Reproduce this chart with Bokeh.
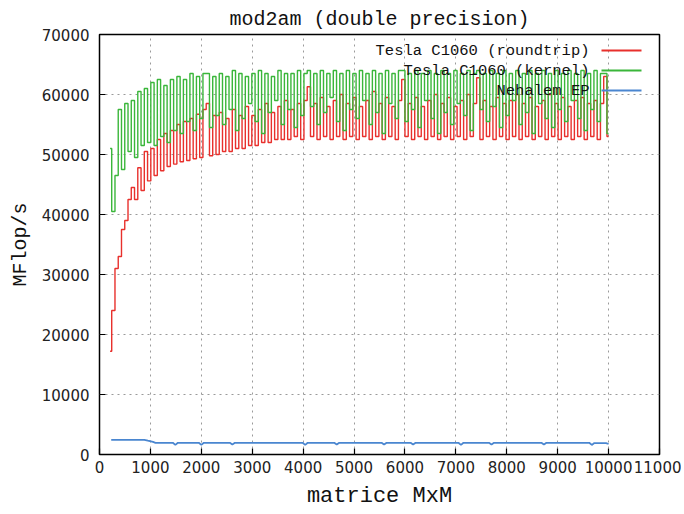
from bokeh.plotting import figure
from bokeh.models import Range1d, FixedTicker, Label, BoxAnnotation
from bokeh.embed import file_html
from bokeh.resources import INLINE

# ---------------- data ----------------
title_text = "mod2am (double precision)"
x_label = "matrice MxM"
y_label = "MFlop/s"
series_names = ["Tesla C1060 (roundtrip)", "Tesla C1060 (kernel)", "Nehalem EP"]
series_colors = ["#e8302c", "#3ab63a", "#4a86d0"]

x_ticks = [0, 1000, 2000, 3000, 4000, 5000, 6000, 7000, 8000, 9000, 10000, 11000]
y_ticks = [0, 10000, 20000, 30000, 40000, 50000, 60000, 70000]

# matrix sizes: sampled from 208 to 10000 every 64
x_start = 208
x_step = 64

roundtrip = [
    17200, 24000, 31000, 33000, 37500, 39000, 42500, 44500, 42500, 47800,
    44000, 50500, 45600, 51000, 46500, 52500, 47300, 53500, 48000, 54000,
    48400, 55000, 48800, 55500, 49000, 56000, 49300, 56700, 49500, 57500,
    58500, 49800, 56500, 50000, 57000, 50500, 56000, 50500, 57500, 51000,
    56500, 51000, 58000, 51500, 56500, 51500, 57500, 52000, 58500, 52000,
    57000, 52500, 58000, 52500, 59000, 52500, 57500, 53000, 58500, 52500,
    59000, 61300, 53000, 58500, 52500, 59500, 53000, 58000, 52500, 59000,
    53000, 60000, 52500, 58500, 53000, 59500, 52500, 58000, 53000, 59000,
    52500, 60500, 53000, 58500, 52500, 59500, 53000, 58000, 52500, 59000,
    62500, 53000, 58500, 52500, 59500, 53000, 58000, 52500, 59000, 53000,
    60000, 52500, 58500, 53000, 59500, 52500, 58000, 53000, 59000, 52500,
    60000, 53000, 58500, 62800, 52500, 59000, 53000, 58000, 52500, 59500,
    53000, 58500, 52500, 59000, 53000, 60000, 52500, 58500, 53000, 59500,
    52500, 58000, 53000, 59000, 52500, 60000, 53000, 58500, 52500, 59500,
    53000, 58000, 52500, 59000, 53000, 59500, 52500, 58500, 53000, 59000,
    52500, 58500, 63000, 53000,
]

kernel = [
    51000, 40500, 46500, 57500, 47500, 58500, 50500, 59000, 49500, 60500,
    51500, 61000, 52000, 62000, 51500, 62500, 53000, 61500, 52000, 62500,
    54000, 63000, 53500, 62500, 55500, 63500, 54000, 63000, 56000, 63500,
    63500, 54500, 63000, 56500, 63500, 55000, 63000, 57500, 64000, 54000,
    63500, 56000, 63000, 58500, 63500, 55500, 64000, 53500, 63500, 57000,
    63000, 59000, 64000, 55000, 63500, 57500, 63500, 54500, 64000, 56500,
    63500, 64000, 58000, 63500, 55000, 64000, 57000, 63500, 59500, 64000,
    55500, 63500, 54000, 64000, 57500, 63500, 56000, 64000, 59000, 63500,
    55000, 64000, 57000, 63500, 53500, 64000, 58500, 63500, 56000, 64000,
    64000, 55500, 63500, 57500, 64000, 54500, 63500, 59000, 64000, 56000,
    63500, 53500, 64000, 57000, 63500, 55000, 64000, 58500, 63500, 56500,
    64000, 54000, 63500, 64000, 57500, 63500, 55500, 64000, 58000, 63500,
    54500, 64000, 56500, 63500, 59000, 64000, 55000, 63500, 57000, 64000,
    53500, 63500, 58500, 64000, 56000, 63500, 54500, 64000, 57500, 63500,
    55500, 64000, 59000, 63500, 56000, 64000, 54000, 63500, 57500, 64000,
    55500, 63500, 63500, 53500,
]

nehalem_x = [230, 880, 950, 1050, 1100, 1440, 1490, 1540, 1950, 2000, 2050,
             2560, 2610, 2660, 3990, 4040, 4090, 4610, 4660, 4710, 5540, 5590,
             5640, 6110, 6160, 6210, 7050, 7100, 7150, 7650, 7700, 7750, 8680,
             8730, 8780, 9620, 9670, 9720, 9950, 10000]
nehalem_y = [2450, 2450, 2300, 2100, 1950, 1950, 1600, 1950, 1950, 1600, 1950,
             1950, 1650, 1950, 1950, 1600, 1950, 1950, 1650, 1950, 1950, 1650,
             1950, 1950, 1650, 1950, 1950, 1600, 1950, 1950, 1650, 1950, 1950,
             1650, 1950, 1950, 1600, 1900, 1900, 1750]

assert len(roundtrip) == len(kernel)
sizes = [x_start + x_step * i for i in range(len(kernel))]

# ---------------- figure ----------------
MONO = "Liberation Mono"
SANS = "DejaVu Sans"

p = figure(frame_width=560, frame_height=420, output_backend="svg",
           toolbar_location=None, x_range=Range1d(0, 11000),
           y_range=Range1d(0, 70000), title=title_text,
           min_border_left=99, min_border_right=22, min_border_top=34,
           min_border_bottom=56)

p.background_fill_color = "white"
p.border_fill_color = "white"
p.outline_line_color = "black"
p.outline_line_width = 1.5

p.title.text_font = MONO
p.title.text_font_size = "20px"
p.title.text_font_style = "normal"
p.title.align = "center"
p.title.text_color = "#111111"
p.title.standoff = 8

for ax, ticks in ((p.xaxis[0], x_ticks), (p.yaxis[0], y_ticks)):
    ax.ticker = FixedTicker(ticks=ticks)
    ax.axis_line_color = None
    ax.major_tick_in = 6
    ax.major_tick_out = 0
    ax.major_tick_line_color = "black"
    ax.major_tick_line_width = 1.2
    ax.minor_tick_line_color = None
    ax.major_label_text_font = SANS
    ax.major_label_text_font_size = "15px"
    ax.major_label_text_color = "#222222"
    ax.axis_label_text_font = MONO
    ax.axis_label_text_font_style = "normal"
    ax.axis_label_text_color = "#111111"

p.xaxis[0].axis_label = x_label
p.xaxis[0].axis_label_text_font_size = "22px"
p.xaxis[0].major_label_standoff = 6
p.xaxis[0].axis_label_standoff = 8
p.yaxis[0].axis_label = y_label
p.yaxis[0].axis_label_text_font_size = "20px"
p.yaxis[0].major_label_standoff = 10
p.yaxis[0].axis_label_standoff = 7

for g in (p.xgrid[0], p.ygrid[0]):
    g.grid_line_color = "#9a9a9a"
    g.grid_line_dash = "2 4"
    g.grid_line_width = 1
p.xgrid[0].ticker = FixedTicker(ticks=x_ticks)
p.ygrid[0].ticker = FixedTicker(ticks=y_ticks)

p.step(sizes, roundtrip, mode="center", line_color=series_colors[0], line_width=1.4)
p.step(sizes, kernel, mode="center", line_color=series_colors[1], line_width=1.4)
p.line(nehalem_x, nehalem_y, line_color=series_colors[2], line_width=1.8)

# gnuplot-style key: text right-aligned, sample line on its right
key_text_right = 490
key_row_top = 404
key_row_gap = 20
for i, (name, col) in enumerate(zip(series_names, series_colors)):
    yy = key_row_top - i * key_row_gap
    p.add_layout(Label(x=key_text_right, y=yy, x_units="screen", y_units="screen",
                       text=name, text_align="right", text_baseline="middle",
                       text_font=MONO, text_font_size="15.5px",
                       text_color="#111111"))
    p.add_layout(BoxAnnotation(left=key_text_right + 12, right=key_text_right + 52,
                               bottom=yy - 0.9, top=yy + 0.9,
                               left_units="screen", right_units="screen",
                               bottom_units="screen", top_units="screen",
                               fill_color=col, fill_alpha=1.0,
                               line_color=None))

open("out.html", "w").write(file_html(p, INLINE))
